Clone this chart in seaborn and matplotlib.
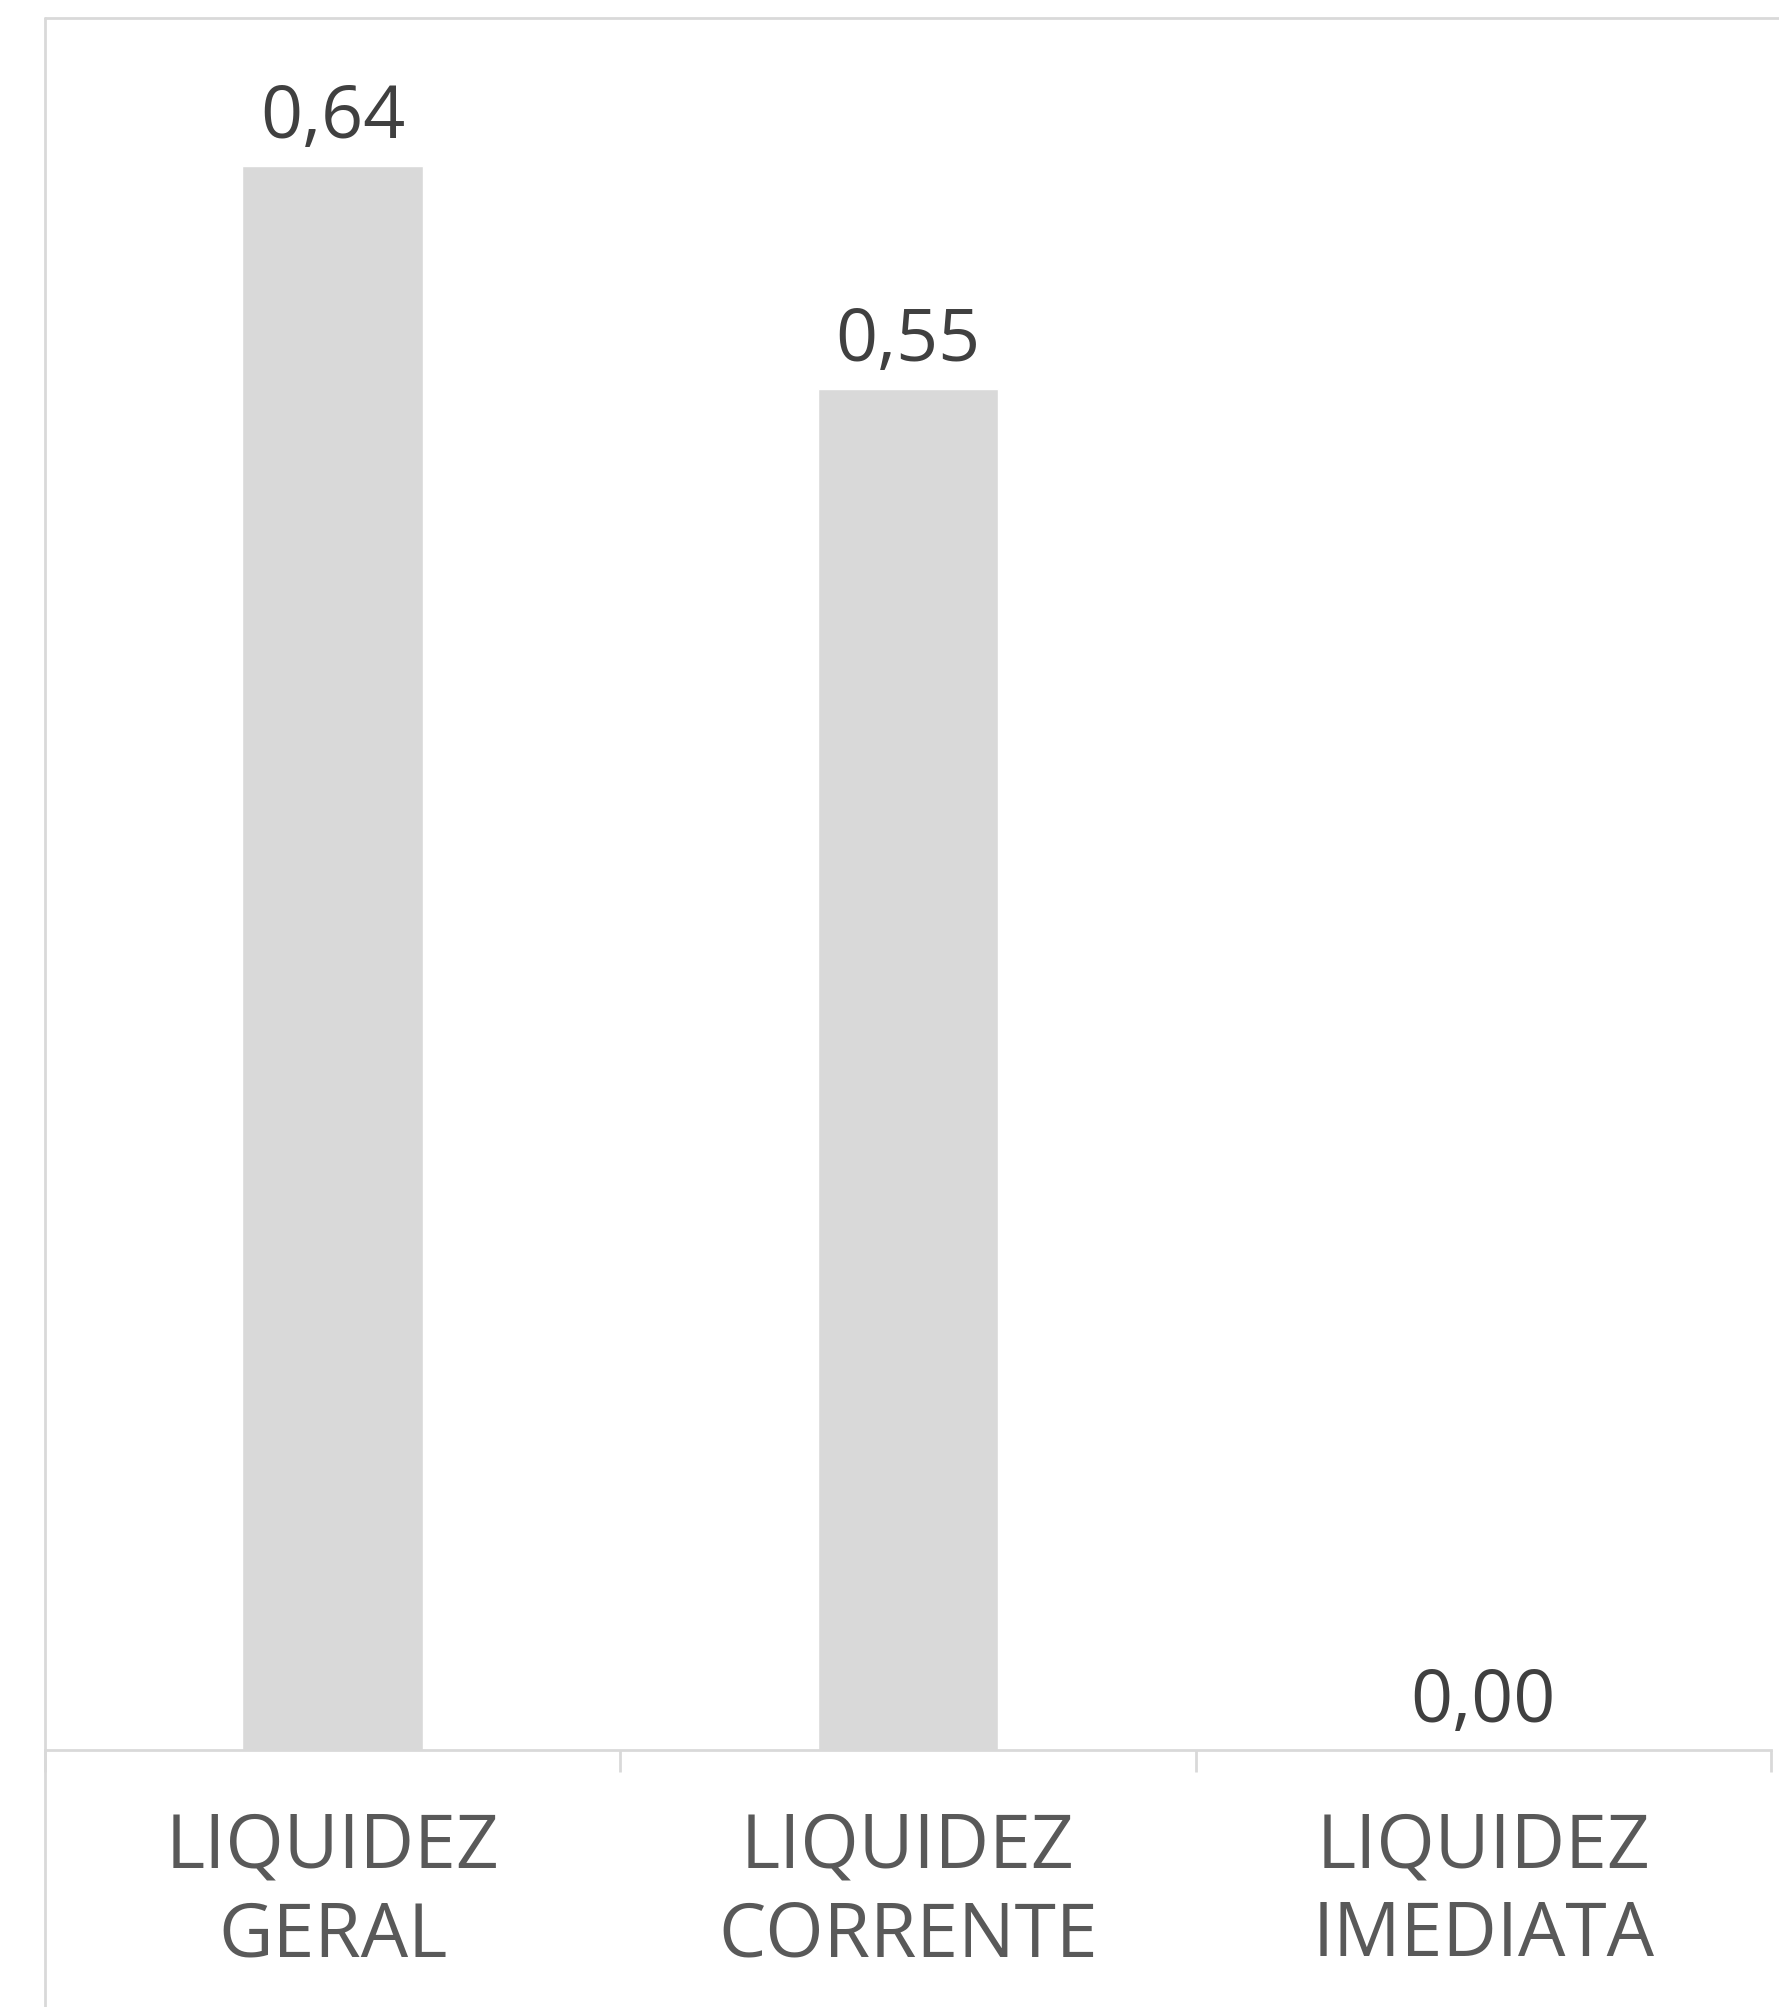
import numpy as np
import pandas as pd
import seaborn as sns
import matplotlib.pyplot as plt
from matplotlib.lines import Line2D
from matplotlib.ticker import FixedLocator

# ------------------------------------------------------------
# DATA
# ------------------------------------------------------------
categories = ["LIQUIDEZ\nGERAL", "LIQUIDEZ\nCORRENTE", "LIQUIDEZ\nIMEDIATA"]
values = [0.64, 0.55, 0.00]
value_labels = ["0,64", "0,55", "0,00"]

df = pd.DataFrame({"indicador": categories, "valor": values})

# ------------------------------------------------------------
# STYLE
# ------------------------------------------------------------
sns.set_style("white")
plt.rcParams["font.family"] = ["Open Sans", "DejaVu Sans"]

W, H = 1779, 2008
fig = plt.figure(figsize=(W / 100, H / 100), dpi=100)
ax = fig.add_axes([45 / W, 1 - 1751 / H, (1771 - 45) / W, (1751 - 19) / H])

sns.barplot(data=df, x="indicador", y="valor", color="#d9d9d9",
            saturation=1, width=0.314, ax=ax)

ax.set_xlim(-0.5, 2.5)
ax.set_ylim(0, 0.70)
ax.set_xlabel("")
ax.set_ylabel("")
ax.set_yticks([])

# value labels above bars
for i, (v, lab) in enumerate(zip(values, value_labels)):
    ax.annotate(lab, (i, v), xytext=(0, 21), textcoords="offset points",
                ha="center", va="baseline", fontsize=53, color="#404040")

# spines / ticks
for s in ["top", "right", "left"]:
    ax.spines[s].set_visible(False)
ax.spines["bottom"].set_color("#d9d9d9")
ax.spines["bottom"].set_linewidth(2)

ax.set_xticks(range(len(categories)))
ax.set_xticklabels(categories, fontsize=54, color="#595959", linespacing=1.24)
ax.tick_params(axis="x", which="major", bottom=True, length=0, pad=43)
ax.xaxis.set_minor_locator(FixedLocator([-0.5, 0.5, 1.5, 2.5]))
ax.tick_params(axis="x", which="minor", bottom=True, length=16, width=2,
               color="#d9d9d9", direction="out")

# outer chart border (top and left edges)
fig.add_artist(Line2D([45 / W, 1.0], [1 - 19 / H, 1 - 19 / H], color="#d9d9d9", lw=2))
fig.add_artist(Line2D([45 / W, 45 / W], [0, 1 - 19 / H], color="#d9d9d9", lw=2))

fig.savefig("out.png", dpi=100)
